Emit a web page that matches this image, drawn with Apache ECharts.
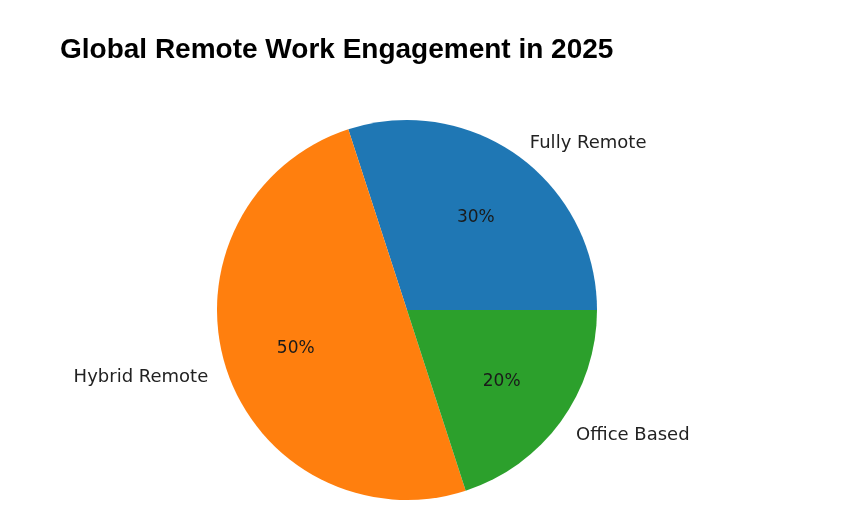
<!DOCTYPE html>
<html>
<head>
<meta charset="utf-8">
<script src="https://cdn.jsdelivr.net/npm/echarts@6/dist/echarts.min.js"></script>
<style>
html,body{margin:0;padding:0;background:#fff;}
#chart{width:850px;height:525px;}
</style>
</head>
<body>
<div id="chart"></div>
<script>
const categories = ['Fully Remote', 'Hybrid Remote', 'Office Based'];
const values = [30, 50, 20];
const colors = ['#1f77b4', '#ff7f0e', '#2ca02c'];
const titleText = 'Global Remote Work Engagement in 2025';

const R = 190;
const center = [407, 310];
const labelCenter = [407, 312.5];
const data = categories.map((c, i) => ({ name: c, value: values[i], itemStyle: { color: colors[i] } }));
const ghost = categories.map((c, i) => ({ name: c, value: values[i], itemStyle: { color: 'rgba(0,0,0,0)' } }));

const chart = echarts.init(document.getElementById('chart'), null, { renderer: 'canvas' });
chart.setOption({
  animation: false,
  backgroundColor: '#ffffff',
  title: {
    text: titleText,
    left: 55, top: 31,
    textStyle: { fontFamily: 'Liberation Sans, Arial, sans-serif', fontWeight: 'bold', fontSize: 28, color: '#000' }
  },
  series: [
    {
      type: 'pie',
      center: center,
      radius: [0, R],
      startAngle: 0,
      clockwise: false,
      silent: true,
      data: data,
      label: { show: false },
      labelLine: { show: false },
      itemStyle: { borderWidth: 0 }
    },
    {
      type: 'pie',
      center: labelCenter,
      radius: [0, R],
      startAngle: 0,
      clockwise: false,
      avoidLabelOverlap: false,
      silent: true,
      z: 3,
      data: ghost,
      label: {
        show: true,
        position: 'outside',
        formatter: '{b}',
        fontFamily: 'DejaVu Sans',
        fontSize: 18,
        color: '#222',
        distanceToLabelLine: 0
      },
      labelLine: { show: true, length: 19, length2: 0, lineStyle: { opacity: 0 } },
      itemStyle: { borderWidth: 0 }
    },
    {
      type: 'pie',
      center: labelCenter,
      radius: [0, R * 1.2],
      startAngle: 0,
      clockwise: false,
      silent: true,
      z: 3,
      data: ghost,
      label: {
        show: true,
        position: 'inside',
        formatter: function (p) { return Math.round(p.percent) + '%'; },
        fontFamily: 'DejaVu Sans',
        fontSize: 17,
        color: '#1a1a1a'
      },
      labelLine: { show: false },
      itemStyle: { borderWidth: 0 }
    }
  ]
});
</script>
</body>
</html>
